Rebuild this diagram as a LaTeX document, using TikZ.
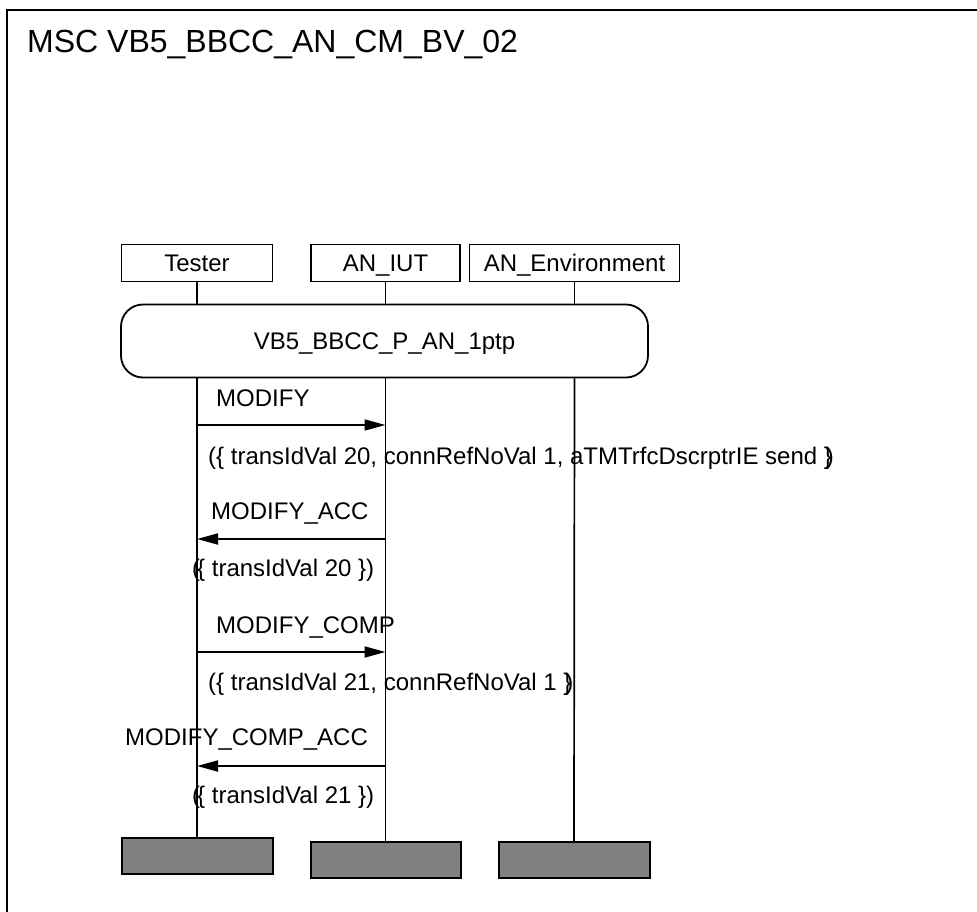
\documentclass[tikz,border=0pt]{standalone}
\usepackage{fontspec}
\setmainfont{Liberation Sans}
\usetikzlibrary{arrows.meta}
\definecolor{endgray}{HTML}{808080}
\begin{document}
\begin{tikzpicture}[x=1pt,y=-1pt,
  txt/.style={font=\fontsize{24}{28}\selectfont, inner sep=0pt, text height=17pt, text depth=0pt},
  headbox/.style={draw, line width=1.8pt, minimum height=37pt, inner sep=0pt, text height=17pt, text depth=0pt, font=\fontsize{24}{28}\selectfont},
  refbox/.style={draw, line width=1.8pt, rounded corners=22pt, minimum height=73pt, inner sep=0pt, text height=17pt, text depth=0pt, font=\fontsize{24}{28}\selectfont},
  endbox/.style={draw, line width=2pt, fill=endgray, minimum height=36pt, inner sep=0pt},
  life/.style={line width=1.7pt},
  msg/.style={line width=1.8pt, -{Triangle[length=21pt,width=11pt]}},
]
\useasboundingbox (0,0) rectangle (977,911);
\begin{scope}
\clip (0,0) rectangle (977,911);
\draw[line width=2.5pt] (7,10) rectangle (1000,940);
\end{scope}

\node[anchor=base west, font=\fontsize{32}{38}\selectfont, inner sep=0pt] (title) at (27,52) {MSC VB5\_BBCC\_AN\_CM\_BV\_02};

% instance heads
\node[headbox, minimum width=151pt] (tester) at (197,263) {Tester};
\node[headbox, minimum width=149pt] (iut) at (385.5,263) {AN\_IUT};
\node[headbox, minimum width=210pt] (env) at (574.5,263) {AN\_Environment};

% reference
\node[refbox, minimum width=527pt] (ref) at (384.5,341) {VB5\_BBCC\_P\_AN\_1ptp};

% instance ends
\node[endbox, minimum width=151pt] (tend) at (197,855.5) {};
\node[endbox, minimum width=150pt] (iend) at (385.5,860) {};
\node[endbox, minimum width=151pt] (eend) at (574,860) {};

% lifelines
\draw[life] (tester.south) -- (tester.south |- ref.north);
\draw[life] (iut.south) -- (iut.south |- ref.north);
\draw[life] (env.south) -- (env.south |- ref.north);
\draw[life] (tester.south |- ref.south) -- (tend.north);
\draw[life] (iut.south |- ref.south) -- (iend.north);
\draw[life] (env.south |- ref.south) -- (eend.north);

% message points
\coordinate (t1) at (tester.south |- 0,425);
\coordinate (i1) at (iut.south |- 0,425);
\coordinate (t2) at (tester.south |- 0,539);
\coordinate (i2) at (iut.south |- 0,539);
\coordinate (t3) at (tester.south |- 0,652);
\coordinate (i3) at (iut.south |- 0,652);
\coordinate (t4) at (tester.south |- 0,766);
\coordinate (i4) at (iut.south |- 0,766);

\draw[msg] (t1) -- (i1);
\draw[msg] (i2) -- (t2);
\draw[msg] (t3) -- (i3);
\draw[msg] (i4) -- (t4);

% labels
\node[txt, anchor=west] (l1) at (216,398) {MODIFY};
\node[txt, anchor=west] (p1) at (208,456) {(\{ transIdVal 20, connRefNoVal 1, aTMTrfcDscrptrIE send \}\kern-6pt)};
\node[txt, anchor=west] (l2) at (211,511) {MODIFY\_ACC};
\node[txt, anchor=west] (p2) at (192,568) {(\kern-3pt\{ transIdVal 20 \})};
\node[txt, anchor=west] (l3) at (216,625) {MODIFY\_COMP};
\node[txt, anchor=west] (p3) at (208,682) {(\{ transIdVal 21, connRefNoVal 1 \}\kern-6pt)};
\node[txt, anchor=west] (l4) at (125,737) {MODIFY\_COMP\_ACC};
\node[txt, anchor=west] (p4) at (192,795) {(\kern-3pt\{ transIdVal 21 \})};
\end{tikzpicture}
\end{document}
